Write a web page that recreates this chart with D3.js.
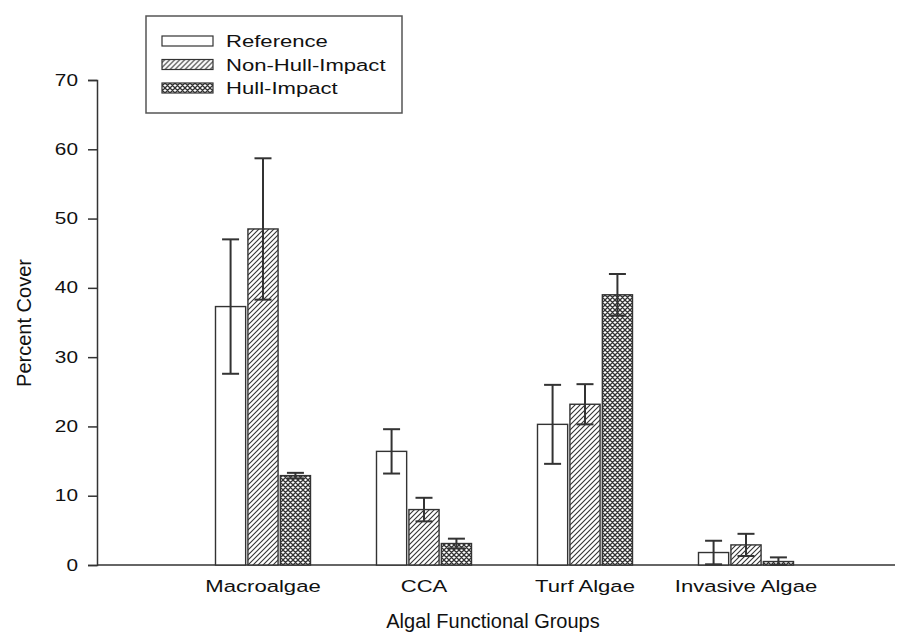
<!DOCTYPE html>
<html>
<head>
<meta charset="utf-8">
<script src="https://cdn.jsdelivr.net/npm/d3@7"></script>
<style>
  body { margin: 0; background: #fff; }
  text { font-family: "Liberation Sans", Arial, sans-serif; fill: #111; }
</style>
</head>
<body>
<svg id="chart" width="897" height="637"></svg>
<script>
const categories = ["Macroalgae", "CCA", "Turf Algae", "Invasive Algae"];
const seriesNames = ["Reference", "Non-Hull-Impact", "Hull-Impact"];
const refMean = [37.3, 16.4, 20.3, 1.8];
const refErr = [9.7, 3.2, 5.7, 1.7];
const nonHullMean = [48.5, 8.0, 23.2, 2.9];
const nonHullErr = [10.2, 1.7, 2.9, 1.6];
const hullMean = [12.9, 3.1, 39.0, 0.5];
const hullErr = [0.4, 0.7, 3.0, 0.6];
const yTicks = [0, 10, 20, 30, 40, 50, 60, 70];

const means = [refMean, nonHullMean, hullMean];
const errs = [refErr, nonHullErr, hullErr];

let rows = [];
categories.forEach(function (cat, i) {
    seriesNames.forEach(function (s, j) {
        rows.push({cat: cat, series: s, mean: means[j][i], err: errs[j][i]});
    });
});

const svg = d3.select("#chart");
const ink = "#333";
const stretch = 1.3; // the original text is drawn wide

// patterns
let defs = svg.append("defs");
let diag = defs.append("pattern")
    .attr("id", "diag")
    .attr("patternUnits", "userSpaceOnUse")
    .attr("width", 5).attr("height", 5);
diag.append("rect").attr("width", 5).attr("height", 5).attr("fill", "#fff");
diag.append("path")
    .attr("d", "M-1,1 l2,-2 M0,5 l5,-5 M4,6 l2,-2")
    .attr("stroke", ink).attr("stroke-width", 1.1);

let cross = defs.append("pattern")
    .attr("id", "cross")
    .attr("patternUnits", "userSpaceOnUse")
    .attr("width", 5).attr("height", 5);
cross.append("rect").attr("width", 5).attr("height", 5).attr("fill", "#fff");
cross.append("path")
    .attr("d", "M-1,1 l2,-2 M0,5 l5,-5 M4,6 l2,-2 M-1,4 l2,2 M0,0 l5,5 M4,-1 l2,2")
    .attr("stroke", ink).attr("stroke-width", 1.3);

const fills = {"Reference": "#fff", "Non-Hull-Impact": "url(#diag)", "Hull-Impact": "url(#cross)"};

// scales
let y = d3.scaleLinear().domain([0, 70]).range([565, 80]);
let x = d3.scaleBand().domain(categories).range([182.5, 826.5]).padding(0);
let xs = d3.scaleBand().domain(seriesNames).range([-47.5, 47.5]).paddingInner(0.07);

// axes
let yAxis = d3.axisLeft(y).tickValues(yTicks).tickSize(9).tickPadding(10);
let gy = svg.append("g").attr("transform", "translate(97,0)").call(yAxis);
gy.select(".domain").attr("stroke", ink).attr("stroke-width", 1.5);
gy.selectAll(".tick line").attr("stroke", ink).attr("stroke-width", 1.5);
gy.selectAll(".tick text")
    .style("font-size", "16px").attr("fill", "#111")
    .attr("x", 0)
    .attr("transform", "translate(-19,0) scale(" + stretch + ",1)");

svg.append("line")
    .attr("x1", 97).attr("x2", 895)
    .attr("y1", y(0)).attr("y2", y(0))
    .attr("stroke", ink).attr("stroke-width", 1.5);

svg.append("g").selectAll("text").data(categories)
    .enter().append("text")
    .attr("transform", d => "translate(" + (x(d) + x.bandwidth() / 2) + ",592) scale(" + stretch + ",1)")
    .attr("text-anchor", "middle")
    .style("font-size", "17px")
    .text(d => d);

svg.append("text")
    .attr("x", 493).attr("y", 628)
    .attr("text-anchor", "middle")
    .style("font-size", "20px")
    .text("Algal Functional Groups");

svg.append("text")
    .attr("transform", "translate(31,323) rotate(-90)")
    .attr("text-anchor", "middle")
    .style("font-size", "20px")
    .text("Percent Cover");

// bars
let groups = svg.append("g").selectAll("g").data(rows).enter().append("g")
    .attr("transform", d => "translate(" + (x(d.cat) + x.bandwidth() / 2) + ",0)");

groups.append("rect")
    .attr("x", d => xs(d.series))
    .attr("width", xs.bandwidth())
    .attr("y", d => y(d.mean))
    .attr("height", d => y(0) - y(d.mean))
    .attr("fill", d => fills[d.series])
    .attr("stroke", ink)
    .attr("stroke-width", 1.4);

// error bars
let capW = 17;
groups.append("line")
    .attr("x1", d => xs(d.series) + xs.bandwidth() / 2)
    .attr("x2", d => xs(d.series) + xs.bandwidth() / 2)
    .attr("y1", d => y(d.mean - d.err))
    .attr("y2", d => y(d.mean + d.err))
    .attr("stroke", ink).attr("stroke-width", 2);
groups.append("line")
    .attr("x1", d => xs(d.series) + xs.bandwidth() / 2 - capW / 2)
    .attr("x2", d => xs(d.series) + xs.bandwidth() / 2 + capW / 2)
    .attr("y1", d => y(d.mean + d.err))
    .attr("y2", d => y(d.mean + d.err))
    .attr("stroke", ink).attr("stroke-width", 2);
groups.append("line")
    .attr("x1", d => xs(d.series) + xs.bandwidth() / 2 - capW / 2)
    .attr("x2", d => xs(d.series) + xs.bandwidth() / 2 + capW / 2)
    .attr("y1", d => y(Math.max(0, d.mean - d.err)))
    .attr("y2", d => y(Math.max(0, d.mean - d.err)))
    .attr("stroke", ink).attr("stroke-width", 2);

// legend
let legend = svg.append("g");
legend.append("rect")
    .attr("x", 146).attr("y", 16).attr("width", 256).attr("height", 97)
    .attr("fill", "#fff").attr("stroke", "#555").attr("stroke-width", 1.5);
let items = legend.selectAll("g.item").data(seriesNames).enter().append("g")
    .attr("class", "item")
    .attr("transform", (d, i) => "translate(0," + (41 + i * 23.5) + ")");
items.append("rect")
    .attr("x", 162).attr("y", -5).attr("width", 51).attr("height", 10)
    .attr("fill", d => fills[d])
    .attr("stroke", ink).attr("stroke-width", 1.2);
items.append("text")
    .attr("transform", "translate(226,6) scale(" + stretch + ",1)")
    .style("font-size", "17px")
    .text(d => d);
</script>
</body>
</html>
